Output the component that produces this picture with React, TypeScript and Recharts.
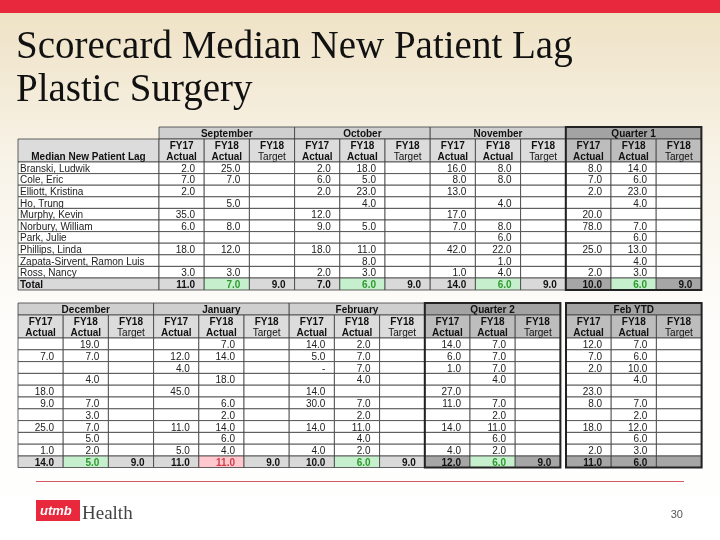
import React from 'react';
import { Surface, Layer, Rectangle, Text } from 'recharts';

// providers (rows)
const providers = [
  'Branski, Ludwik',
  'Cole, Eric',
  'Elliott, Kristina',
  'Ho, Trung',
  'Murphy, Kevin',
  'Norbury, William',
  'Park, Julie',
  'Phillips, Linda',
  'Zapata-Sirvent, Ramon Luis',
  'Ross, Nancy',
];

type V = number | null | '-';

// first table
const sepFy17: V[] = [2, 7, 2, null, 35, 6, null, 18, null, 3];
const sepFy18: V[] = [25, 7, null, 5, null, 8, null, 12, null, 3];
const octFy17: V[] = [2, 6, 2, null, 12, 9, null, 18, null, 2];
const octFy18: V[] = [18, 5, 23, 4, null, 5, null, 11, 8, 3];
const novFy17: V[] = [16, 8, 13, null, 17, 7, null, 42, null, 1];
const novFy18: V[] = [8, 8, null, 4, null, 8, 6, 22, 1, 4];
const q1Fy17: V[] = [8, 7, 2, null, 20, 78, null, 25, null, 2];
const q1Fy18: V[] = [14, 6, 23, 4, null, 7, 6, 13, 4, 3];

// second table
const decFy17: V[] = [null, 7, null, null, 18, 9, null, 25, null, 1];
const decFy18: V[] = [19, 7, null, 4, null, 7, 3, 7, 5, 2];
const janFy17: V[] = [null, 12, 4, null, 45, null, null, 11, null, 5];
const janFy18: V[] = [7, 14, null, 18, null, 6, 2, 14, 6, 4];
const febFy17: V[] = [14, 5, '-', null, 14, 30, null, 14, null, 4];
const febFy18: V[] = [2, 7, 7, 4, null, 7, 2, 11, 4, 2];
const q2Fy17: V[] = [14, 6, 1, null, 27, 11, null, 14, null, 4];
const q2Fy18: V[] = [7, 7, 7, 4, null, 7, 2, 11, 6, 2];
const ytdFy17: V[] = [12, 7, 2, null, 23, 8, null, 18, null, 2];
const ytdFy18: V[] = [7, 6, 10, 4, null, 7, 2, 12, 6, 3];

const periods = ['September', 'October', 'November', 'Quarter 1', 'December', 'January', 'February', 'Quarter 2', 'Feb YTD'];
const isQuarter = [false, false, false, true, false, false, false, true, true];
const totalFy17: V[] = [11, 7, 14, 10, 14, 11, 10, 12, 11];
const totalFy18: V[] = [7, 6, 6, 6, 5, 11, 6, 6, 6];
const totalTarget: V[] = [9, 9, 9, 9, 9, 9, 9, 9, null];
const fy18Status = ['good', 'good', 'good', 'good', 'good', 'bad', 'good', 'good', ''];

const fy17Series = [sepFy17, octFy17, novFy17, q1Fy17, decFy17, janFy17, febFy17, q2Fy17, ytdFy17];
const fy18Series = [sepFy18, octFy18, novFy18, q1Fy18, decFy18, janFy18, febFy18, q2Fy18, ytdFy18];

const SANS = 'Liberation Sans, Arial, sans-serif';
const SERIF = 'Liberation Serif, Times New Roman, serif';
const LINE = '#3c3c3c';

const fmt = (v: V) => (v === null ? '' : v === '-' ? '-' : v.toFixed(1));

interface BlockProps {
  idx: number;
  x: number;
  y: number;
  colW: number;
  monthH: number;
  fyH: number;
  rowH: number;
  totalH: number;
}

const PeriodBlock = ({ idx, x, y, colW, monthH, fyH, rowH, totalH }: BlockProps) => {
  const quarter = isQuarter[idx];
  const monthFill = quarter ? '#a3a3a3' : '#cfcfcf';
  const fyFill = quarter ? '#bdbdbd' : '#dcdcdc';
  const totFill = quarter ? '#a6a6a6' : '#d9d9d9';
  const w = colW * 3;
  const dataTop = y + monthH + fyH;
  const totTop = dataTop + rowH * providers.length;
  const cols = [fy17Series[idx], fy18Series[idx], null];
  const heads = [['FY17', 'Actual'], ['FY18', 'Actual'], ['FY18', 'Target']];
  const totals = [totalFy17[idx], totalFy18[idx], totalTarget[idx]];
  const status = fy18Status[idx];

  return (
    <Layer>
      <Rectangle x={x} y={y} width={w} height={monthH} fill={monthFill} stroke={LINE} strokeWidth={0.8} />
      <Text x={x + w / 2} y={y + monthH / 2 + 0.5} textAnchor="middle" verticalAnchor="middle" fontSize={10} fontWeight="bold" fontFamily={SANS} fill="#111">
        {periods[idx]}
      </Text>
      {heads.map((h, c) => (
        <Layer key={`h${c}`}>
          <Rectangle x={x + c * colW} y={y + monthH} width={colW} height={fyH} fill={fyFill} stroke={LINE} strokeWidth={0.8} />
          <Text x={x + c * colW + colW / 2} y={y + monthH + 6.5} textAnchor="middle" verticalAnchor="middle" fontSize={10} fontWeight="bold" fontFamily={SANS} fill="#111">
            {h[0]}
          </Text>
          <Text x={x + c * colW + colW / 2} y={y + monthH + 17} textAnchor="middle" verticalAnchor="middle" fontSize={10} fontWeight={c === 2 ? 'normal' : 'bold'} fontFamily={SANS} fill="#111">
            {h[1]}
          </Text>
        </Layer>
      ))}
      {providers.map((_, r) => (
        <Layer key={`r${r}`}>
          {cols.map((series, c) => (
            <Layer key={`c${c}`}>
              <Rectangle x={x + c * colW} y={dataTop + r * rowH} width={colW} height={rowH} fill="#fff" stroke={LINE} strokeWidth={0.8} />
              {series && (
                <Text x={x + (c + 1) * colW - 9} y={dataTop + r * rowH + rowH / 2 + 0.5} textAnchor="end" verticalAnchor="middle" fontSize={10} fontFamily={SANS} fill="#222">
                  {fmt(series[r])}
                </Text>
              )}
            </Layer>
          ))}
        </Layer>
      ))}
      {totals.map((v, c) => {
        const hl = c === 1 && status !== '';
        const fill = hl ? (status === 'good' ? '#c6efce' : '#ffc7ce') : totFill;
        const color = hl ? (status === 'good' ? '#2e9a2e' : '#d0404a') : '#111';
        return (
          <Layer key={`t${c}`}>
            <Rectangle x={x + c * colW} y={totTop} width={colW} height={totalH} fill={fill} stroke={LINE} strokeWidth={0.8} />
            <Text x={x + (c + 1) * colW - 9} y={totTop + totalH / 2 + 0.5} textAnchor="end" verticalAnchor="middle" fontSize={10} fontWeight="bold" fontFamily={SANS} fill={color}>
              {fmt(v)}
            </Text>
          </Layer>
        );
      })}
      {quarter && (
        <Rectangle x={x} y={y} width={w} height={totTop + totalH - y} fill="none" stroke="#222" strokeWidth={2} />
      )}
    </Layer>
  );
};

const LabelColumn = ({ x, y, w, monthH, fyH, rowH, totalH }: { x: number; y: number; w: number; monthH: number; fyH: number; rowH: number; totalH: number }) => {
  const dataTop = y + monthH + fyH;
  const totTop = dataTop + rowH * providers.length;
  return (
    <Layer>
      <Rectangle x={x} y={y + monthH} width={w} height={fyH} fill="#dcdcdc" stroke={LINE} strokeWidth={0.8} />
      <Text x={x + w / 2} y={y + monthH + 17} textAnchor="middle" verticalAnchor="middle" fontSize={10} fontWeight="bold" fontFamily={SANS} fill="#111">
        Median New Patient Lag
      </Text>
      {providers.map((name, r) => (
        <Layer key={name}>
          <Rectangle x={x} y={dataTop + r * rowH} width={w} height={rowH} fill="#fff" stroke={LINE} strokeWidth={0.8} />
          <Text x={x + 2} y={dataTop + r * rowH + rowH / 2 + 0.5} verticalAnchor="middle" fontSize={10} fontFamily={SANS} fill="#222">
            {name}
          </Text>
        </Layer>
      ))}
      <Rectangle x={x} y={totTop} width={w} height={totalH} fill="#d9d9d9" stroke={LINE} strokeWidth={0.8} />
      <Text x={x + 2} y={totTop + totalH / 2 + 0.5} verticalAnchor="middle" fontSize={10} fontWeight="bold" fontFamily={SANS} fill="#111">
        Total
      </Text>
    </Layer>
  );
};

export default function App() {
  const colW = 45.2;
  const topY = 127;
  const botY = 303;
  const labelW = 141;
  return (
    <div style={{ position: 'fixed', left: 0, top: 0, width: 720, height: 540 }}>
      <Surface width={720} height={540}>
        <defs>
          <linearGradient id="bg" x1="0" y1="0" x2="0" y2="1">
            <stop offset="0" stopColor="#eee1c3" />
            <stop offset="0.3" stopColor="#f8f3e8" />
            <stop offset="0.6" stopColor="#fefdfb" />
            <stop offset="1" stopColor="#ffffff" />
          </linearGradient>
        </defs>
        <Rectangle x={0} y={0} width={720} height={540} fill="url(#bg)" />
        <Rectangle x={0} y={0} width={720} height={13} fill="#e8283c" />

        <Text x={16} y={58} fontSize={39} fontFamily={SERIF} fill="#111">
          Scorecard Median New Patient Lag
        </Text>
        <Text x={16} y={101} fontSize={39} fontFamily={SERIF} fill="#111">
          Plastic Surgery
        </Text>

        <LabelColumn x={18} y={topY} w={labelW} monthH={12} fyH={23} rowH={11.6} totalH={12} />
        {[0, 1, 2, 3].map((i) => (
          <PeriodBlock key={periods[i]} idx={i} x={18 + labelW + i * colW * 3} y={topY} colW={colW} monthH={12} fyH={23} rowH={11.6} totalH={12} />
        ))}
        {[4, 5, 6, 7].map((i, k) => (
          <PeriodBlock key={periods[i]} idx={i} x={18 + k * colW * 3} y={botY} colW={colW} monthH={12} fyH={23} rowH={11.8} totalH={11.5} />
        ))}
        <PeriodBlock idx={8} x={566} y={botY} colW={colW} monthH={12} fyH={23} rowH={11.8} totalH={11.5} />

        <Rectangle x={36} y={481} width={648} height={1} fill="#d4585f" />
        <Rectangle x={36} y={500} width={44} height={21} fill="#e8283c" />
        <Text x={40} y={515} fontSize={13} fontStyle="italic" fontWeight="bold" fontFamily={SANS} fill="#fff">
          utmb
        </Text>
        <Text x={82} y={519} fontSize={19} fontFamily={SERIF} fill="#444">
          Health
        </Text>
        <Text x={683} y={518} textAnchor="end" fontSize={11} fontFamily={SANS} fill="#555">
          30
        </Text>
      </Surface>
    </div>
  );
}
